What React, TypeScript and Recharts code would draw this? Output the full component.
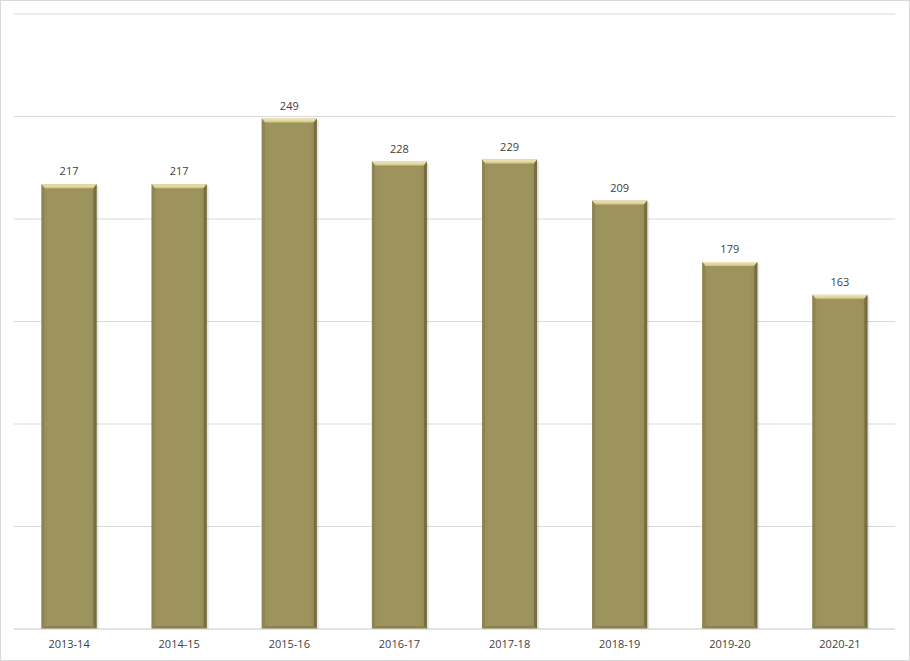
import { Bar, BarChart, CartesianGrid, LabelList, XAxis, YAxis } from "recharts";

const YEARS = ["2013-14", "2014-15", "2015-16", "2016-17", "2017-18", "2018-19", "2019-20", "2020-21"];
const COUNTS = [217, 217, 249, 228, 229, 209, 179, 163];
const Y_TICKS = [0, 50, 100, 150, 200, 250, 300];

const data = YEARS.map((year, i) => ({ year, count: COUNTS[i] }));

// Excel-style bevelled column
function BevelBar(props: any) {
  const { x, y, width, height } = props;
  if (!height || height <= 0) return null;
  const b = 3;
  return (
    <g>
      <rect x={x + 2} y={y + 2} width={width} height={height - 2} fill="#000" opacity={0.1} />
      <rect x={x} y={y} width={width} height={height} fill="url(#barBody)" />
      <polygon
        points={`${x},${y} ${x + width},${y} ${x + width - b},${y + 4} ${x + b},${y + 4}`}
        fill="url(#barTop)"
      />
      <polygon
        points={`${x},${y} ${x + b},${y + 4} ${x + b},${y + height - 3} ${x},${y + height}`}
        fill="#8e8553"
      />
      <polygon
        points={`${x + width},${y} ${x + width - b},${y + 4} ${x + width - b},${y + height - 3} ${x + width},${y + height}`}
        fill="#766e41"
      />
      <polygon
        points={`${x},${y + height} ${x + b},${y + height - 3} ${x + width - b},${y + height - 3} ${x + width},${y + height}`}
        fill="#8a814f"
      />
    </g>
  );
}

export default function App() {
  return (
    <div style={{ position: "absolute", left: 0, top: 0, width: 910, height: 661, background: "#fff" }}>
      <BarChart
        width={910}
        height={661}
        data={data}
        margin={{ top: 14, right: 15, left: 14, bottom: 12 }}
        barCategoryGap="25%"
        style={{ fontFamily: "'Open Sans', sans-serif" }}
      >
        <defs>
          <linearGradient id="barBody" x1="0" y1="0" x2="1" y2="0">
            <stop offset="0%" stopColor="#978e58" />
            <stop offset="15%" stopColor="#9d945d" />
            <stop offset="85%" stopColor="#9d945d" />
            <stop offset="100%" stopColor="#938a55" />
          </linearGradient>
          <linearGradient id="barTop" x1="0" y1="0" x2="0" y2="1">
            <stop offset="0%" stopColor="#f3e9b5" />
            <stop offset="100%" stopColor="#cfc48a" />
          </linearGradient>
        </defs>
        <CartesianGrid vertical={false} stroke="#d9d9d9" />
        <XAxis
          dataKey="year"
          height={20}
          tickLine={false}
          axisLine={{ stroke: "#d9d9d9" }}
          tick={{ fill: "#404040", fontSize: 11 }}
          tickMargin={5}
        />
        <YAxis hide domain={[0, 300]} ticks={Y_TICKS} />
        <Bar dataKey="count" fill="#9d945d" shape={<BevelBar />} isAnimationActive={false}>
          <LabelList
            dataKey="count"
            position="top"
            offset={9}
            fill="#404040"
            style={{ fill: "#404040" }}
            fontSize={11}
          />
        </Bar>
      </BarChart>
      <div
        style={{
          position: "absolute",
          left: 0,
          top: 0,
          width: 910,
          height: 661,
          boxSizing: "border-box",
          border: "1px solid #d9d9d9",
          pointerEvents: "none",
        }}
      />
    </div>
  );
}
